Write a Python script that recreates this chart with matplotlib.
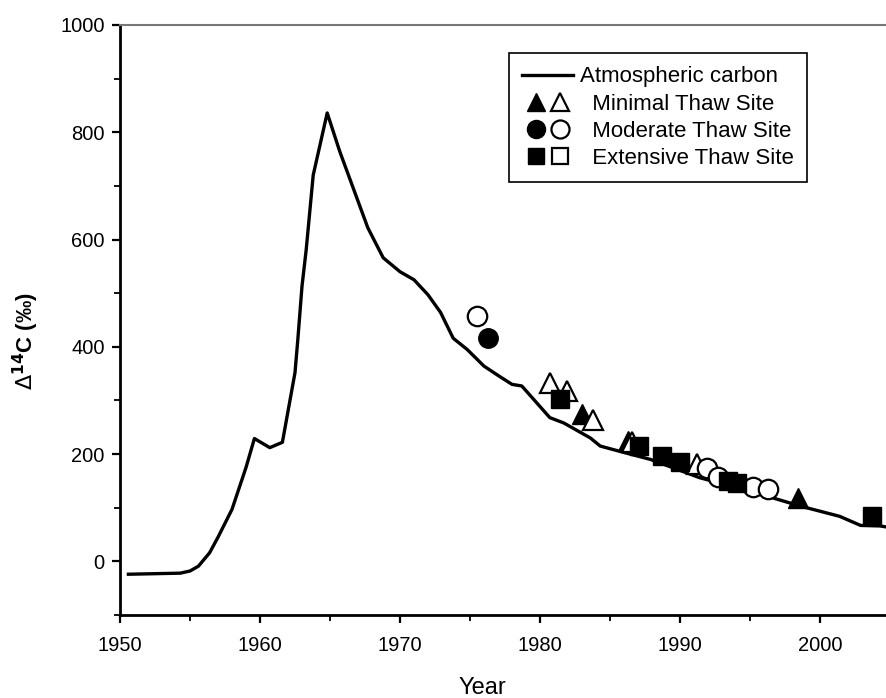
import matplotlib
matplotlib.use('Agg')
import matplotlib.pyplot as plt
from matplotlib.lines import Line2D
from matplotlib.legend_handler import HandlerTuple
from matplotlib.ticker import MultipleLocator

plt.rcParams['font.family'] = ['Liberation Sans', 'DejaVu Sans']

# atmospheric 14C curve
atm_year = [1950.6, 1954.3, 1955.0, 1955.6, 1956.4, 1957.0, 1958.0, 1959.0, 1959.6,
            1960.7, 1961.6, 1962.5, 1962.7, 1963.0, 1963.3, 1963.8, 1964.8, 1965.7,
            1967.7, 1968.8, 1970.0, 1971.0, 1972.0, 1972.9, 1973.8, 1974.8, 1976.0,
            1977.1, 1978.0, 1978.7, 1980.7, 1981.7, 1983.6, 1984.3, 1986.0, 1987.9,
            1991.4, 1995.0, 1998.6, 2001.4, 2002.9, 2004.3, 2005.0]
atm_d14c = [-24, -22, -18, -9, 16, 45, 97, 175, 229,
            212, 222, 352, 413, 513, 581, 720, 836, 764,
            622, 566, 540, 525, 497, 464, 416, 395, 364,
            345, 330, 327, 268, 258, 230, 215, 203, 190,
            156, 131, 103, 84, 67, 66, 63]

# sample points (filled / open markers per site)
min_fill_year = [1983.0, 1986.3, 1998.4]
min_fill_val = [274, 225, 119]
min_open_year = [1980.7, 1981.9, 1983.8, 1986.6, 1991.2]
min_open_val = [332, 317, 263, 222, 182]

mod_fill_year = [1976.3]
mod_fill_val = [417]
mod_open_year = [1975.5, 1991.9, 1992.7, 1995.2, 1996.3]
mod_open_val = [458, 175, 158, 138, 134]

ext_fill_year = [1981.4, 1987.1, 1988.7, 1990.0, 1993.4, 1994.1, 2003.7]
ext_fill_val = [302, 215, 196, 186, 149, 147, 84]
ext_open_year = []
ext_open_val = []

fig = plt.figure(figsize=(8.86, 6.98), dpi=100)
ax = fig.add_axes([120 / 886, 1 - 615 / 698, 770 / 886, 590 / 698])

ax.plot(atm_year, atm_d14c, color='black', lw=2.4, zorder=2)

ms = 14
ax.plot(min_fill_year, min_fill_val, '^', ms=ms + 1, color='black', zorder=3)
ax.plot(min_open_year, min_open_val, '^', ms=ms + 1, mfc='white', mec='black', mew=1.6, zorder=3)
ax.plot(mod_fill_year, mod_fill_val, 'o', ms=ms, color='black', zorder=3)
ax.plot(mod_open_year, mod_open_val, 'o', ms=ms, mfc='white', mec='black', mew=1.6, zorder=3)
ax.plot(ext_fill_year, ext_fill_val, 's', ms=ms - 1, color='black', zorder=3)
ax.plot(ext_open_year, ext_open_val, 's', ms=ms - 1, mfc='white', mec='black', mew=1.6, zorder=3)

ax.set_xlim(1950, 2005)
ax.set_ylim(-100, 1000)
ax.xaxis.set_major_locator(MultipleLocator(10))
ax.xaxis.set_minor_locator(MultipleLocator(5))
ax.yaxis.set_major_locator(MultipleLocator(200))
ax.yaxis.set_minor_locator(MultipleLocator(100))
ax.tick_params(axis='both', which='major', direction='out', length=6, width=1.6,
               labelsize=14.5)
ax.tick_params(axis='both', which='minor', direction='out', length=4, width=1.3)
ax.tick_params(axis='x', which='major', pad=9)
ax.tick_params(axis='y', which='major', pad=5)

ax.spines['left'].set_linewidth(2)
ax.spines['bottom'].set_linewidth(2)
ax.spines['top'].set_linewidth(1.5)
ax.spines['top'].set_color('#777777')
ax.spines['right'].set_visible(False)

ax.set_xlabel('Year', fontsize=17)
ax.xaxis.set_label_coords(0.471, -0.105)
ax.set_ylabel(r'$\Delta^{\mathbf{14}}$C (‰)', fontsize=16, fontweight='bold')
ax.yaxis.set_label_coords(-0.103, 0.464)

ms_leg = 13
h_line = Line2D([], [], color='black', lw=2.4)
h_min = (Line2D([], [], marker='^', ls='', ms=ms_leg, color='black'),
         Line2D([], [], marker='^', ls='', ms=ms_leg, mfc='white', mec='black', mew=1.6))
h_mod = (Line2D([], [], marker='o', ls='', ms=ms_leg, color='black'),
         Line2D([], [], marker='o', ls='', ms=ms_leg, mfc='white', mec='black', mew=1.6))
h_ext = (Line2D([], [], marker='s', ls='', ms=ms_leg - 1, color='black'),
         Line2D([], [], marker='s', ls='', ms=ms_leg - 1, mfc='white', mec='black', mew=1.6))

leg = ax.legend([h_line, h_min, h_mod, h_ext],
                ['Atmospheric carbon', '  Minimal Thaw Site', '  Moderate Thaw Site',
                 '  Extensive Thaw Site'],
                handler_map={tuple: HandlerTuple(ndivide=None, pad=-0.15)},
                loc='upper left', bbox_to_anchor=(509 / 886, 1 - 53 / 698),
                bbox_transform=fig.transFigure, borderaxespad=0,
                fontsize=16, handlelength=2.3, handletextpad=0.3,
                labelspacing=0.28, borderpad=0.6, fancybox=False,
                edgecolor='black', framealpha=1)
leg.get_frame().set_linewidth(1.2)

fig.savefig('out.png', dpi=100)
